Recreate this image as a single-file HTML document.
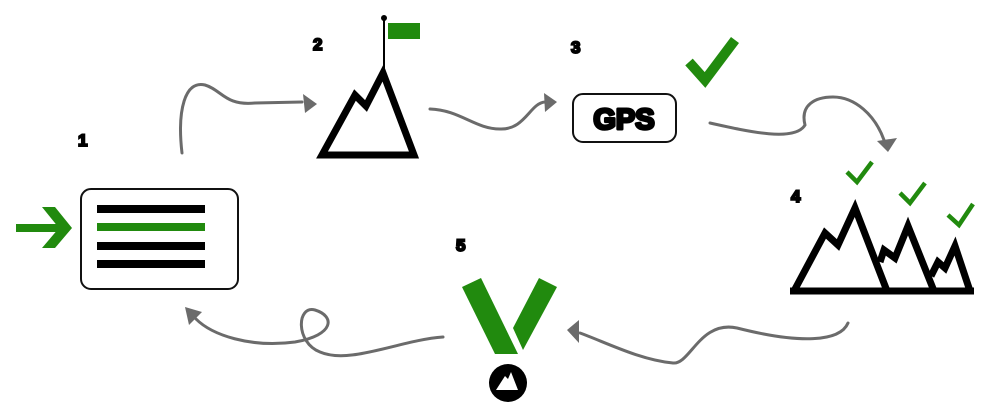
<!DOCTYPE html>
<html><head><meta charset="utf-8"><style>
html,body{margin:0;padding:0;background:#fff;}
svg{display:block;}
.num{font-family:"Liberation Sans",sans-serif;font-weight:bold;font-size:17px;fill:#000;stroke:#000;stroke-width:2;}
.arr{fill:none;stroke:#6b6b6b;stroke-width:3;stroke-linecap:round;}
.head{fill:#6b6b6b;}
</style></head><body>
<svg width="1000" height="414" viewBox="0 0 1000 414">
<text class="num" x="78" y="146">1</text>
<text class="num" x="313" y="50">2</text>
<text class="num" x="571" y="53">3</text>
<text class="num" x="791" y="202">4</text>
<text class="num" x="456" y="251">5</text>

<g fill="#218a0e">
<rect x="16" y="224" width="46" height="8"/>
<polygon points="42,207 55,207 72,228 55,248 42,248 59,228"/>
</g>

<g>
<rect x="81" y="189" width="157" height="100" rx="10" fill="#fff" stroke="#111" stroke-width="2"/>
<rect x="97" y="205" width="108" height="8" fill="#000"/>
<rect x="97" y="223" width="108" height="8" fill="#218a0e"/>
<rect x="97" y="242" width="108" height="8" fill="#000"/>
<rect x="97" y="260" width="108" height="8" fill="#000"/>
</g>

<g>
<line x1="384" y1="18" x2="384" y2="68" stroke="#000" stroke-width="2"/>
<circle cx="384" cy="18" r="3" fill="#000"/>
<rect x="388" y="23" width="32" height="16" fill="#218a0e"/>
<polygon points="322,155 355,95 366,106 383,73 414,155" fill="none" stroke="#000" stroke-width="7" stroke-linejoin="miter"/>
</g>

<g>
<rect x="573" y="94" width="103" height="48" rx="10" fill="#fff" stroke="#111" stroke-width="2"/>
<text x="624" y="129" text-anchor="middle" font-family="Liberation Sans,sans-serif" font-weight="bold" font-size="29" fill="#000" stroke="#000" stroke-width="3" stroke-linejoin="round">GPS</text>
</g>
<polyline points="689,62 705,80 735,40" fill="none" stroke="#218a0e" stroke-width="10"/>

<g fill="none" stroke="#000" stroke-width="7">
<polyline points="794,291 825,233 838,245 855,208 887,291"/>
<polyline points="880,262 884,250 895,258 908,226 934,291"/>
<polyline points="931,276 938,262 945,268 955,246 970,291"/>
<line x1="790" y1="291" x2="974" y2="291"/>
</g>
<g fill="none" stroke="#218a0e" stroke-width="4.5">
<polyline points="847,172 857,182 872,162"/>
<polyline points="900,193 910,203 925,183"/>
<polyline points="948,215 959,225 973,204"/>
</g>

<g>
<polygon points="462,287 481,278 518,354 495,354" fill="#218a0e"/>
<polygon points="513,328 539,278 557,287 523,350" fill="#218a0e"/>
<circle cx="508" cy="383" r="19" fill="#000"/>
<polygon points="496,390 505,376 508,379 511,372 518,390" fill="#fff"/>
</g>

<g>
<path class="arr" d="M182,153 C177,110 185,80 205,85 C222,90 225,106 255,103 L302,102"/>
<polygon class="head" points="317,104 303,94 305,113"/>
</g>
<g>
<path class="arr" d="M430,109 C460,110 475,129 500,129 C525,130 530,103 545,102"/>
<polygon class="head" points="557,102 544,93 545,112"/>
</g>
<g>
<path class="arr" d="M710,123 C750,132 795,142 805,125 C800,105 815,97 833,97 C855,97 875,115 884,140"/>
<polygon class="head" points="888,152 877,141 897,138"/>
</g>
<g>
<path class="arr" d="M848,323 C840,342 800,344 737,328 C700,320 690,365 673,363 C640,360 605,342 580,333"/>
<polygon class="head" points="567,330 579,320 579,343"/>
</g>
<g>
<path class="arr" d="M443,337 C400,340 350,365 320,352 C295,342 297,305 315,310 C335,316 335,335 295,342 C250,348 212,335 196,319"/>
<polygon class="head" points="185,307 189,325 202,312"/>
</g>
</svg>
</body></html>
